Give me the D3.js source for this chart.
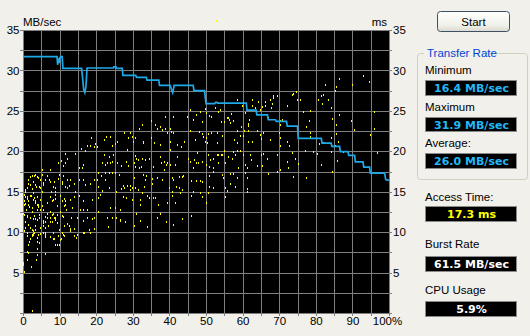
<!DOCTYPE html>
<html><head><meta charset="utf-8">
<script src="https://cdn.jsdelivr.net/npm/d3@7"></script>
<style>
body{margin:0;background:#f1f0eb;}
svg{display:block;font-family:"Liberation Sans",Arial,sans-serif;}
</style>
</head><body>
<svg id="c" width="530" height="336"></svg>
<script>
// ---------- data ----------
const yTicks = [0,2.5,5,7.5,10,12.5,15,17.5,20,22.5,25,27.5,30,32.5,35];
const yLabels = [5,10,15,20,25,30,35];
const xTicks = [0,5,10,15,20,25,30,35,40,45,50,55,60,65,70,75,80,85,90,95,100];
const xLabels = [0,10,20,30,40,50,60,70,80,90,100];
const leftUnit = "MB/sec";
const rightUnit = "ms";

// transfer rate (MB/sec) vs position (%)
const ratePct = [0,9.3,9.45,9.7,9.9,10.1,10.4,10.7,10.9,16.0,16.3,16.6,16.9,17.2,17.5,24.7,24.8,25.4,25.5,27.1,27.3,30.8,31.0,33.7,33.9,37.1,37.3,40.2,40.6,40.9,41.3,46.5,46.7,49.6,50.0,52.4,52.6,53.0,53.2,61.0,61.2,63.7,63.9,66.8,67.0,69.0,69.2,72.0,72.2,75.0,75.2,81.5,81.7,84.2,84.4,86.5,86.7,88.8,89.0,90.6,90.8,92.9,93.1,94.7,94.9,98.8,99.1,100];
const rateMB = [31.7,31.7,30.7,31.5,30.9,31.6,31.7,31.7,30.26,30.26,29.0,27.6,27.25,28.0,30.3,30.3,30.45,30.45,30.26,30.26,29.4,29.4,29.15,29.15,28.8,28.8,28.15,28.15,27.6,27.25,28.15,28.15,27.5,27.5,25.9,25.9,26.05,26.05,25.95,25.95,25.1,25.1,24.5,24.5,23.9,23.9,23.7,23.7,23.1,23.1,21.6,21.6,21.0,21.0,20.6,20.6,19.95,19.95,19.5,19.5,18.7,18.7,18.05,18.05,17.3,17.3,16.5,16.4];

// access time samples [position %, ms]
const accessPoints = [
[86.4,29.0],[93.0,29.3],[94.6,28.6],[82.5,28.2],[85.5,27.9],[90.0,28.2],[85.3,27.4],[82.1,27.0],[81.4,26.8],[80.7,26.4],[83.4,26.3],[81.6,25.9],[75.7,26.3],[84.1,25.3],[76.6,24.8],[78.4,25.0],[86.4,24.5],[95.9,24.9],[84.5,24.0],[89.5,23.8],[78.2,23.7],[77.4,23.0],[85.4,23.2],[95.9,22.7],[90.5,22.6],[78.3,22.3],[78.3,21.8],[94.9,22.0],[85.4,22.1],[84.2,21.6],[86.2,21.1],[85.2,20.7],[81.0,20.9],[82.1,21.0],[77.1,20.0],[79.2,19.9],[80.4,19.7],[84.2,19.9],[87.5,19.9],[96.8,19.8],[85.9,18.8],[81.4,18.3],[84.5,17.5],
[58.4,26.3],[60.2,26.0],[62.7,26.4],[64.3,26.1],[66.1,26.1],[67.5,26.4],[68.4,26.6],[69.5,26.8],[65.2,25.5],[67.9,25.8],[67.7,25.3],[62.5,25.6],[72.2,25.6],[73.8,27.1],[74.5,27.3],[74.9,26.4],[73.5,27.0],[53.8,25.1],[53.4,24.8],[56.7,24.6],[56.1,24.1],[56.3,23.9],[57.5,23.7],[56.5,23.5],[54.1,23.6],[55.0,23.6],[61.5,23.4],[61.4,23.1],[61.7,23.9],[67.0,24.1],[70.2,23.8],[70.9,23.9],[70.2,23.3],[59.5,23.0],[58.4,22.5],[60.5,22.5],[61.5,22.5],[63.8,22.5],[64.7,22.0],[65.6,22.2],[69.9,22.2],[54.5,21.9],[59.3,21.9],[60.2,21.9],[61.4,21.2],[62.7,21.2],[57.7,21.4],[58.6,21.0],[64.9,21.5],[67.5,21.4],[70.2,21.6],[72.0,21.2],[72.6,20.7],[70.2,20.7],[55.0,20.0],[57.5,19.9],[58.4,20.0],[59.3,20.0],[53.4,19.5],[54.1,19.5],[54.5,19.5],[55.9,19.3],[57.2,19.1],[57.9,19.5],[60.0,19.5],[62.0,19.5],[62.2,18.9],[64.9,19.5],[65.6,19.7],[66.7,19.1],[69.3,19.5],[73.5,19.8],[74.3,19.0],[72.2,18.7],[75.0,18.4],[53.4,18.5],[55.2,18.5],[58.8,17.9],[60.6,18.3],[61.3,17.9],[63.8,18.2],[65.2,18.2],[72.5,17.9],[69.3,17.5],[70.2,17.7],[54.3,17.1],[54.7,16.7],[56.5,17.2],[57.5,17.2],[58.4,16.7],[60.6,17.3],[61.1,16.7],[67.0,17.2],[73.8,16.8],[77.2,16.7],
[49.7,25.2],[50.9,24.4],[55.8,24.1],[59.7,25.6],[60.7,24.7],[63.4,25.3],[64.8,25.1],[66.1,25.6],[68.4,26.8],[52.7,36.1],
[45.5,25.1],[47.3,24.5],[48.4,24.9],[50.0,24.7],[51.3,24.3],[52.5,25.3],[38.8,24.3],[41.1,24.2],[44.7,24.2],[46.5,23.9],[48.8,23.6],[34.9,23.8],[36.1,23.2],[36.7,22.8],[37.3,23.0],[37.9,22.6],[38.8,22.7],[39.3,22.3],[40.2,22.7],[40.4,22.4],[40.9,22.3],[32.5,23.2],[31.8,22.7],[27.7,22.3],[29.1,22.3],[29.7,21.8],[28.8,21.6],[30.6,21.7],[30.0,21.2],[32.7,21.2],[32.9,21.0],[34.9,21.6],[35.9,21.0],[37.5,20.8],[40.2,21.2],[42.0,20.8],[43.2,20.5],[44.0,21.2],[45.6,22.5],[47.0,21.4],[48.2,22.4],[48.8,22.1],[49.3,21.8],[50.0,21.7],[50.6,22.1],[51.3,22.2],[49.7,21.2],[50.2,21.0],[52.9,22.2],[53.1,21.0],[28.5,20.2],[30.6,19.4],[30.9,19.1],[31.5,18.9],[32.5,19.1],[33.4,18.9],[34.5,19.0],[37.5,19.3],[40.2,20.2],[42.2,19.3],[45.2,19.1],[45.6,18.7],[46.7,18.9],[47.5,19.8],[47.9,18.5],[48.8,18.7],[50.6,19.5],[51.1,18.9],[52.0,19.1],[52.9,19.5],[28.2,18.7],[28.8,18.2],[30.2,18.6],[30.6,18.1],[31.8,17.9],[32.2,18.1],[35.6,18.0],[37.7,18.6],[38.4,18.7],[39.1,18.3],[39.3,18.6],[38.5,17.7],[40.2,18.3],[41.5,18.3],[46.4,17.9],[47.3,18.5],[50.0,18.3],[50.9,18.1],[52.0,17.9],[30.2,16.7],[32.9,17.1],[33.4,16.5],[33.6,16.9],[35.2,16.6],[36.5,16.7],[38.1,16.5],[40.6,16.7],[41.1,16.5],[42.5,16.8],[43.4,16.8],[43.8,17.0],[45.8,16.3],[47.3,16.3],[48.4,16.3],[50.9,17.0],[51.8,17.4],[27.3,15.7],[27.6,15.5],[28.4,15.7],[29.1,15.7],[29.7,15.5],[29.3,15.2],[30.6,15.5],[31.5,15.2],[33.1,15.6],[35.2,16.0],[40.0,15.5],[41.8,15.6],[42.7,15.4],[40.6,15.0],[43.4,15.2],[27.3,14.4],[28.2,14.2],[29.7,14.0],[32.0,14.0],[32.5,14.8],[33.8,14.5],[34.5,14.2],[35.6,14.2],[36.1,14.2],[40.6,14.5],[41.5,13.6],[45.8,14.5],[46.5,15.0],[48.4,14.8],[50.0,13.6],[50.6,14.8],[48.8,14.4],[42.9,14.8],[32.0,13.3],[37.0,13.4],[39.3,13.6],
[55.2,15.4],[56.6,16.0],[57.9,15.6],[55.7,15.1],[61.1,15.3],[61.1,15.0],[55.2,14.3],[50.9,15.6],[52.0,15.4],[48.8,16.2],
[26.5,11.5],[28.0,11.2],[30.3,10.8],[32.0,11.4],[34.0,10.6],[36.5,11.7],[39.0,11.2],[41.0,10.9],[43.5,11.6],[46.0,12.0],[31.0,12.3],[37.5,12.3],
[18.5,21.6],[22.7,21.8],[23.8,21.8],[22.0,21.4],[19.7,20.9],[18.4,20.7],[17.5,20.6],[15.9,20.3],[17.0,20.0],[19.3,20.5],[20.2,20.5],[24.3,20.7],[25.6,21.1],[25.2,20.9],[11.4,19.7],[14.3,19.7],[22.0,19.6],[23.6,19.3],[24.7,19.5],[22.9,18.6],[24.3,18.7],[21.5,18.6],[22.5,18.3],[23.8,18.5],[25.8,18.5],[26.8,18.2],[16.5,18.3],[16.1,17.9],[15.2,17.9],[9.5,18.6],[10.5,18.8],[11.5,18.5],[10.8,18.2],[12.0,19.1],[7.5,17.7],[5.2,17.7],
[23.4,17.3],[24.3,17.3],[25.0,17.3],[22.5,17.3],[21.4,17.0],[20.6,17.3],[26.1,17.1],[22.5,16.4],[19.3,16.4],[18.4,16.0],[16.5,16.5],[17.0,15.8],[15.2,16.4],[13.8,15.9],[12.9,16.4],[12.5,15.7],[10.8,16.9],[9.5,16.6],[8.4,16.2],[10.6,16.0],[7.0,16.5],[5.6,16.1],[4.7,16.5],[3.8,16.8],[2.9,17.0],[2.0,16.8],[1.5,16.0],[1.1,15.5],[0.6,15.2],[3.4,15.8],[4.3,15.6],[2.5,15.3],[5.2,15.0],[7.7,15.0],[8.8,15.4],[12.0,15.5],[14.3,15.0],[20.6,15.6],[21.5,15.1],[23.5,15.5],[25.4,15.0],[26.8,15.3],[20.2,16.4],
[0.2,14.6],[1.1,14.4],[2.0,14.5],[2.9,14.2],[3.8,14.4],[4.7,14.0],[3.2,13.8],[4.1,13.4],[1.5,13.4],[0.5,13.5],[2.5,13.0],[3.8,12.7],[5.6,12.8],[6.5,13.6],[7.9,13.8],[8.8,14.6],[8.8,14.1],[11.1,14.1],[11.5,13.8],[12.9,14.0],[13.8,14.4],[15.4,14.5],[16.5,13.8],[18.8,14.0],[20.6,14.2],[21.1,14.6],[11.1,13.2],[13.4,13.0],[15.6,12.7],[16.5,12.8],[17.5,12.8],[25.2,13.0],[26.5,12.7],[20.5,12.5],[23.8,13.0],[7.5,12.5],[5.2,13.2],
[0.2,12.1],[1.1,11.9],[2.0,11.7],[2.9,12.0],[3.4,11.6],[4.3,11.7],[5.4,11.4],[6.5,11.8],[7.9,12.1],[8.4,11.8],[9.3,12.1],[8.8,11.5],[7.5,11.3],[6.1,11.2],[10.6,12.0],[13.2,11.8],[14.7,11.7],[16.5,11.4],[18.8,11.6],[19.3,11.7],[17.5,11.7],[22.9,11.8],[24.3,11.8],[25.4,11.7],[26.5,11.4],[23.2,10.6],[1.4,10.9],[2.0,10.5],[3.2,10.3],[5.4,10.7],[6.1,10.5],[12.0,11.0],[12.5,10.7],[13.8,10.4],[12.9,10.4],[17.9,10.3],[19.5,10.4],[0.2,10.1],
[2.9,9.9],[2.5,9.5],[3.8,9.3],[1.1,9.5],[4.3,8.6],[9.5,9.5],[10.5,9.1],[9.7,8.4],[13.8,9.5],[14.5,9.3],[16.8,9.9],[11.1,9.5],[6.1,9.7],[8.4,9.1],
[0.5,14.4],[1.0,14.1],[1.5,13.8],[2.1,14.5],[2.8,14.8],[2.6,14.0],[3.3,13.6],[3.7,13.4],[4.2,13.1],[4.6,12.8],[5.1,13.2],[1.7,13.1],[0.8,12.7],[2.4,12.5],[1.2,12.0],[1.9,11.7],[2.8,11.6],[3.7,11.5],[4.5,12.1],[0.5,11.3],[1.5,10.9],[3.3,10.7],[2.4,10.3],[4.6,10.5],[5.6,11.1],[6.0,11.9],[6.5,12.3],[7.4,11.7],[8.3,12.3],[8.7,11.8],[7.8,11.3],[9.2,11.1],[6.9,10.7],[5.6,9.9],[4.2,9.6],[2.8,9.6],[1.0,9.9],[0.5,10.5],[0.1,12.3],[0.3,13.4],[0.3,13.8],[3.6,15.6],[2.8,16.2],[1.9,15.8],[1.0,15.4],[0.5,15.0],[4.6,15.4],[5.6,15.8],[4.2,16.7],[5.1,17.1],[3.3,17.1],[2.4,16.9],[1.5,16.4],[6.0,16.4],[6.5,16.9],[7.4,16.2],[8.3,15.6],[9.7,17.1],[11.0,16.9],[10.6,16.2],[11.9,16.4],[11.5,15.6],[8.7,15.0],[7.4,14.4],[8.3,14.0],[10.1,14.5],[10.6,13.8],[9.2,13.2],[11.5,13.4],[11.7,12.8],[10.1,12.5],[11.0,11.9],[9.7,10.3],[10.6,9.9],[11.2,10.7],[8.3,9.9],[7.4,9.4],[6.0,9.4],
[2.6,10.1],[3.1,9.9],[2.8,9.8],[2.4,9.6],[1.9,9.2],[1.7,8.8],[1.5,8.4],[1.0,7.5],[1.5,7.4],[1.2,6.6],[0.1,6.2],[0.1,5.9],[0.3,5.1],[2.1,5.7],[3.6,6.6],[3.9,7.2],[3.9,7.9],[3.9,8.8],[6.0,7.3],[4.6,9.8],[6.0,9.9],[8.7,8.4],[9.4,8.4],[10.1,9.0],[8.3,9.1],[11.0,9.6],[12.8,10.1],[14.7,9.6],[16.5,9.9],[18.3,9.9],[2.5,0.3]
];

// side panel
const buttonLabel = "Start";
const groupTitle = "Transfer Rate";
const statLabels = ["Minimum","Maximum","Average:","Access Time:","Burst Rate","CPU Usage"];
const statValues = ["16.4 MB/sec","31.9 MB/sec","26.0 MB/sec","17.3 ms","61.5 MB/sec","5.9%"];
const statKinds  = ["rate","rate","rate","access","plain","plain"];

// ---------- drawing ----------
const svg = d3.select("#c");
const W = 530, H = 336;
const plot = {l:23, t:30, r:389, b:313};
const x = d3.scaleLinear().domain([0,100]).range([plot.l, plot.r]);
const y = d3.scaleLinear().domain([0,35]).range([plot.b, plot.t]);
const gridCol = "#7e7e7e";
const fontSz = "11.5px";

svg.append("rect").attr("width",W).attr("height",H).attr("fill","#f1f0eb");
svg.append("rect").attr("x",plot.l).attr("y",plot.t)
  .attr("width",plot.r-plot.l).attr("height",plot.b-plot.t).attr("fill","#000");

// grid
const grid = svg.append("g").attr("shape-rendering","crispEdges").attr("stroke",gridCol);
grid.selectAll("line.v").data(xTicks).join("line")
  .attr("x1",d=>Math.round(x(d))+0.5).attr("x2",d=>Math.round(x(d))+0.5)
  .attr("y1",plot.t).attr("y2",plot.b);
grid.selectAll("line.h").data(yTicks).join("line")
  .attr("y1",d=>Math.round(y(d))+0.5).attr("y2",d=>Math.round(y(d))+0.5)
  .attr("x1",plot.l).attr("x2",plot.r);

function styleAxis(g){
  g.select(".domain").remove();
  g.selectAll("line").attr("stroke",gridCol).attr("shape-rendering","crispEdges");
  g.selectAll("text").attr("fill","#000").attr("font-size",fontSz)
    .attr("font-family","'Liberation Sans',Arial,sans-serif");
}
const fmtY = d => yLabels.includes(d) ? d : "";
svg.append("g").attr("transform",`translate(${plot.l},0)`)
  .call(d3.axisLeft(y).tickValues(yTicks).tickSize(3).tickPadding(0.5).tickFormat(fmtY))
  .call(styleAxis);
svg.append("g").attr("transform",`translate(${plot.r},0)`)
  .call(d3.axisRight(y).tickValues(yTicks).tickSize(3).tickPadding(1).tickFormat(fmtY))
  .call(styleAxis);
const xAx = svg.append("g").attr("transform",`translate(0,${plot.b})`)
  .call(d3.axisBottom(x).tickValues(xTicks).tickSize(3).tickPadding(1)
    .tickFormat(d => xLabels.includes(d) ? (d===100 ? d+"%" : d) : ""))
  .call(styleAxis);
xAx.selectAll(".tick").filter(d=>d===100).select("text").attr("dx","-2");

svg.append("text").attr("x",plot.l).attr("y",26).attr("font-size",fontSz).text(leftUnit);
svg.append("text").attr("x",plot.r-2).attr("y",26).attr("text-anchor","end").attr("font-size",fontSz).text(rightUnit);

// access time dots
svg.append("g").attr("shape-rendering","crispEdges")
  .selectAll("rect").data(accessPoints).join("rect")
  .attr("x",d=>Math.round(x(d[0])))
  .attr("y",d=>Math.round(y(d[1]))-1)
  .attr("width",1).attr("height",2).attr("fill","#ffff00");

// transfer rate line
const line = d3.line().x(i=>x(ratePct[i])).y(i=>y(rateMB[i]));
svg.append("path").attr("d",line(d3.range(ratePct.length)))
  .attr("fill","none").attr("stroke","#1ea9e8").attr("stroke-width",1.7)
  .attr("stroke-linejoin","miter");

// ---------- side panel ----------
const defs = svg.append("defs");
const gr = defs.append("linearGradient").attr("id","btn").attr("x1",0).attr("y1",0).attr("x2",0).attr("y2",1);
gr.append("stop").attr("offset","0").attr("stop-color","#ffffff");
gr.append("stop").attr("offset","0.7").attr("stop-color","#f0f0ea");
gr.append("stop").attr("offset","1").attr("stop-color","#d8d8cf");
svg.append("rect").attr("x",437.5).attr("y",11.5).attr("width",72).attr("height",20).attr("rx",3)
  .attr("fill","url(#btn)").attr("stroke","#3d5066");
svg.append("text").attr("x",473.5).attr("y",25.5).attr("text-anchor","middle")
  .attr("font-size","11.5px").text(buttonLabel);

svg.append("rect").attr("x",417.5).attr("y",53.5).attr("width",110).attr("height",126).attr("rx",3)
  .attr("fill","none").attr("stroke","#d0d0bf");
svg.append("rect").attr("x",424).attr("y",47).attr("width",62).attr("height",12).attr("fill","#f1f0eb");
svg.append("text").attr("x",427).attr("y",57).attr("font-size","11.5px").attr("fill","#0046d5").text(groupTitle);

const labelY = [74, 110.5, 146.5, 200.5, 248, 294];
const boxY = [80, 116.5, 153, 206, 256, 301];
const valColor = {rate:"#22b8f5", access:"#ffff00", plain:"#ffffff"};
statLabels.forEach((lab,i)=>{
  svg.append("text").attr("x",425).attr("y",labelY[i]).attr("font-size","11.5px").attr("fill","#000").text(lab);
  svg.append("rect").attr("x",425.5).attr("y",boxY[i]+0.5).attr("width",91).attr("height",14.5)
    .attr("fill","#000").attr("stroke","#8a8a8a").attr("shape-rendering","crispEdges");
  svg.append("text").attr("x",471.5).attr("y",boxY[i]+12).attr("text-anchor","middle")
    .attr("font-family","'DejaVu Sans',sans-serif").attr("font-weight","bold").attr("font-size","11px")
    .attr("fill",valColor[statKinds[i]]).text(statValues[i]);
});
</script>
</body></html>
